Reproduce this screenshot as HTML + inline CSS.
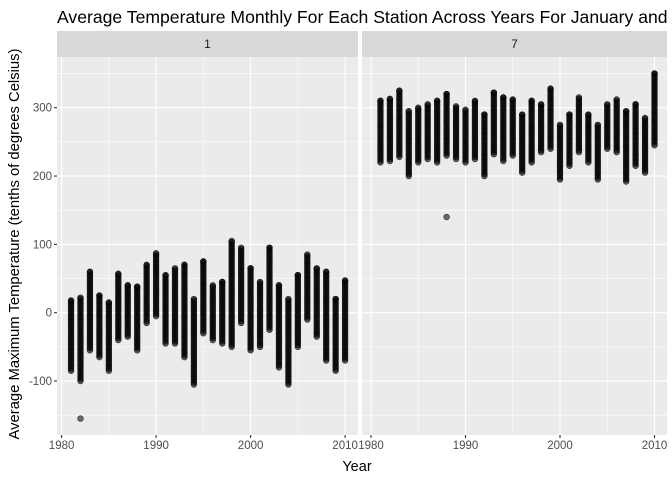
<!DOCTYPE html>
<html><head><meta charset="utf-8"><style>
body{margin:0;background:#fff;}
svg{display:block;font-family:"Liberation Sans",sans-serif;}
</style></head><body>
<svg id="chart" width="672" height="480" viewBox="0 0 672 480" xmlns="http://www.w3.org/2000/svg">
<text x="57" y="23" font-size="17.6" fill="#000">Average Temperature Monthly For Each Station Across Years For January and July</text>
<text x="357" y="471" font-size="14.5" text-anchor="middle" fill="#000">Year</text>
<text transform="translate(19,244) rotate(-90)" font-size="14.8" text-anchor="middle" fill="#000">Average Maximum Temperature (tenths of degrees Celsius)</text>
<g id="layer"></g>
</svg>
<script>
const years=[1981,1982,1983,1984,1985,1986,1987,1988,1989,1990,1991,1992,1993,1994,1995,1996,1997,1998,1999,2000,2001,2002,2003,2004,2005,2006,2007,2008,2009,2010];
const janLow=[-85,-100,-55,-65,-85,-40,-35,-55,-15,-5,-45,-45,-65,-105,-30,-40,-45,-50,-15,-55,-50,-25,-80,-105,-50,-10,-35,-70,-85,-70];
const janHigh=[18,22,60,25,15,57,40,38,70,87,55,65,70,20,75,40,45,105,95,65,45,95,40,20,55,85,65,60,20,47];
const julLow=[220,222,228,200,220,225,220,230,225,220,225,200,232,222,230,205,220,235,240,195,215,235,220,195,240,235,192,215,205,245];
const julHigh=[310,313,325,295,300,305,310,320,302,297,310,290,322,315,312,290,310,305,328,275,290,315,290,275,305,312,295,305,285,350];
const janOutYears=[1982];
const janOutVals=[-155];
const julOutYears=[1988];
const julOutVals=[140];
const xTicks=[1980,1990,2000,2010];
const yTicks=[-100,0,100,200,300];
const facetLabels=["1","7"];

const NS="http://www.w3.org/2000/svg";
const layer=document.getElementById('layer');
function mk(tag,attrs,parent){const e=document.createElementNS(NS,tag);for(const k in attrs)e.setAttribute(k,attrs[k]);(parent||layer).appendChild(e);return e;}
const panelTop=57,panelBot=435;
function y(v){return 312.7-v*0.6833;}
const panels=[{x0:57,x1:358,x1980:61.6},{x0:362,x1:667,x1980:371}];
function xf(p,yr){return p.x1980+(yr-1980)*9.45;}
const lows=[janLow,julLow],highs=[janHigh,julHigh],oy=[janOutYears,julOutYears],ov=[janOutVals,julOutVals];
panels.forEach((p,i)=>{
  const g=mk('g',{});
  
  
  const bg=mk('rect',{x:p.x0,y:panelTop,width:p.x1-p.x0,height:panelBot-panelTop,fill:'#EBEBEB'},g);
  
  
  const st=mk('rect',{x:p.x0,y:31,width:p.x1-p.x0,height:26,fill:'#D9D9D9'},g);
  
  
  const stt=mk('text',{x:(p.x0+p.x1)/2,y:48,'font-size':12,'text-anchor':'middle',fill:'#1A1A1A'},g);
  stt.textContent=facetLabels[i];
  
  
  yTicks.forEach(t=>{
    const mn=mk('line',{x1:p.x0,x2:p.x1,y1:y(t-50),y2:y(t-50),stroke:'#fff','stroke-width':0.55},g);
    
    
  });
  const mn2=mk('line',{x1:p.x0,x2:p.x1,y1:y(350),y2:y(350),stroke:'#fff','stroke-width':0.55},g);
  
  
  xTicks.forEach(t=>{
    if(t<2010){const m=mk('line',{x1:xf(p,t+5),x2:xf(p,t+5),y1:panelTop,y2:panelBot,stroke:'#fff','stroke-width':0.55},g);
    
    }
  });
  yTicks.forEach(t=>{
    const l=mk('line',{x1:p.x0,x2:p.x1,y1:y(t),y2:y(t),stroke:'#fff','stroke-width':1.1},g);
    
    
  });
  xTicks.forEach(t=>{
    const l=mk('line',{x1:xf(p,t),x2:xf(p,t),y1:panelTop,y2:panelBot,stroke:'#fff','stroke-width':1.1},g);
    
    
    const tk=mk('line',{x1:xf(p,t),x2:xf(p,t),y1:panelBot,y2:panelBot+3,stroke:'#333','stroke-width':1.1},g);
    
    
    const tl=mk('text',{x:xf(p,t),y:panelBot+14,'font-size':11.5,'text-anchor':'middle',fill:'#4D4D4D'},g);
    tl.textContent=t;
    
    
  });
  years.forEach((yr,j)=>{
    const cg=mk('g',{},g);
    
    
    const lo=lows[i][j],hi=highs[i][j];
    for(let v=lo;v<=hi;v+=3){mk('circle',{cx:xf(p,yr),cy:y(v),r:2.9,fill:'rgba(0,0,0,0.6)',stroke:'rgba(0,0,0,0.75)','stroke-width':0.6},cg);}
    mk('circle',{cx:xf(p,yr),cy:y(hi),r:2.9,fill:'rgba(0,0,0,0.6)',stroke:'rgba(0,0,0,0.75)','stroke-width':0.6},cg);
  });
  oy[i].forEach((yr,k)=>{
    const c=mk('circle',{cx:xf(p,yr),cy:y(ov[i][k]),r:2.9,fill:'rgba(0,0,0,0.55)',stroke:'rgba(0,0,0,0.7)','stroke-width':0.6},g);
    
    
  });
});
yTicks.forEach(t=>{
  const tk=mk('line',{x1:54,x2:57,y1:y(t),y2:y(t),stroke:'#333','stroke-width':1.1});
  
  
  const tl=mk('text',{x:52,y:y(t)+4,'font-size':11.5,'text-anchor':'end',fill:'#4D4D4D'});
  tl.textContent=t;
  
  
});
</script>
</body></html>
